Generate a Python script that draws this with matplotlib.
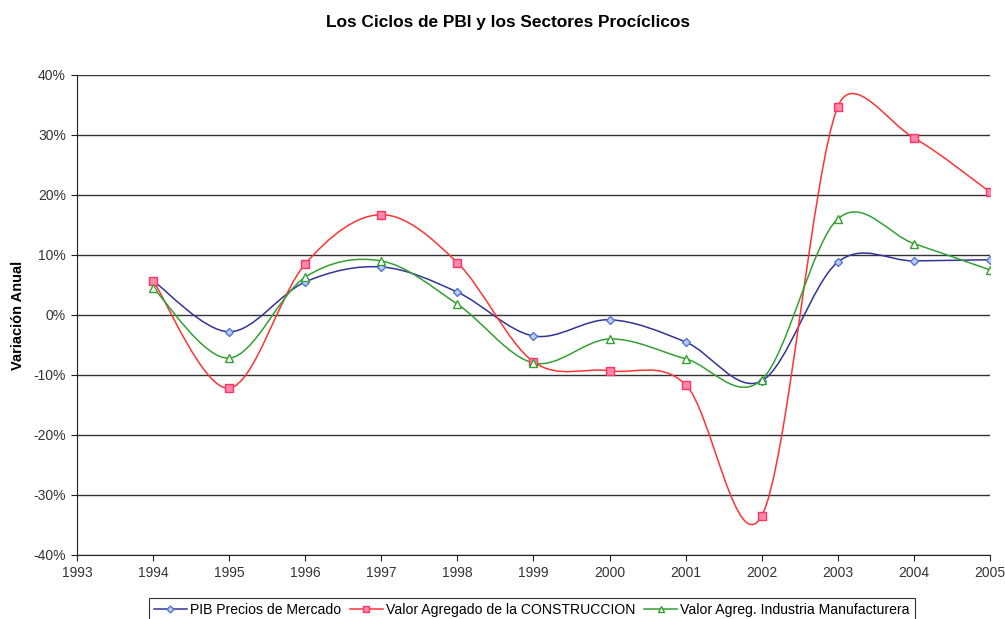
import numpy as np
import matplotlib
matplotlib.use("Agg")
from matplotlib import pyplot as plt
from matplotlib.path import Path
from matplotlib.patches import PathPatch
from matplotlib.ticker import FuncFormatter, MultipleLocator

plt.rcParams['font.family'] = ['Liberation Sans', 'DejaVu Sans']

years = [1994, 1995, 1996, 1997, 1998, 1999, 2000, 2001, 2002, 2003, 2004, 2005]
pib = [5.7, -2.8, 5.5, 8.0, 3.8, -3.5, -0.8, -4.5, -11.0, 8.8, 9.0, 9.2]
construccion = [5.7, -12.2, 8.5, 16.7, 8.7, -7.8, -9.3, -11.6, -33.5, 34.7, 29.5, 20.5]
industria = [4.5, -7.2, 6.3, 9.0, 1.8, -8.0, -4.0, -7.3, -10.8, 16.0, 11.9, 7.5]

labels = ["PIB Precios de Mercado",
          "Valor Agregado de la CONSTRUCCION",
          "Valor Agreg. Industria Manufacturera"]

SX, SY = 76.1, 6.0   # approx pixels per year / per percent, for the smoothing


# Excel-style smoothed line: cubic bezier through the points,
# control arms limited to half the segment length
def smooth_path(x, y):
    pts = np.column_stack([np.asarray(x) * SX, np.asarray(y) * SY]).astype(float)
    n = len(pts)
    out = [pts[0]]
    codes = [Path.MOVETO]
    for i in range(n - 1):
        p0 = pts[i - 1] if i > 0 else pts[i]
        p1 = pts[i]
        p2 = pts[i + 1]
        p3 = pts[i + 2] if i + 2 < n else pts[i + 1]
        seg = np.hypot(*(p2 - p1))
        a1 = (p2 - p0) / 6.0
        a2 = (p3 - p1) / 6.0
        for a in (a1, a2):
            la = np.hypot(*a)
            if la > seg / 2:
                a *= (seg / 2) / la
        out += [p1 + a1, p2 - a2, p2]
        codes += [Path.CURVE4] * 3
    verts = np.array(out) / [SX, SY]
    return Path(verts, codes)


fig = plt.figure(figsize=(10.05, 6.19), dpi=100)
ax = fig.add_axes([0.0766, 0.1034, 0.9084, 0.7756])

series = [
    (pib, '#333399', 'D', '#b8ccff', '#5577cc', 4.5),
    (construccion, '#ff3333', 's', '#ff88aa', '#ff3366', 5.5),
    (industria, '#33a033', '^', 'white', '#33a033', 6),
]
handles = []
for (vals, col, mk, fc, ec, ms), lab in zip(series, labels):
    ax.add_patch(PathPatch(smooth_path(years, vals), facecolor='none',
                           edgecolor=col, lw=1.1, zorder=3))
    ax.plot(years, vals, linestyle='none', marker=mk, markersize=ms,
            markerfacecolor=fc, markeredgecolor=ec, markeredgewidth=1.0, zorder=4)
    h, = ax.plot([], [], color=col, lw=1.1, marker=mk, markersize=ms - 1,
                 markerfacecolor=fc, markeredgecolor=ec)
    handles.append(h)

ax.set_xlim(1993, 2005)
ax.set_ylim(-40, 40)
ax.xaxis.set_major_locator(MultipleLocator(1))
ax.yaxis.set_major_locator(MultipleLocator(10))
ax.yaxis.set_major_formatter(FuncFormatter(lambda v, p: "%d%%" % v))
ax.grid(axis='y', color='#333333', lw=1.0)
ax.set_axisbelow(True)
for s in ['top', 'right']:
    ax.spines[s].set_visible(False)
for s in ['left', 'bottom']:
    ax.spines[s].set_color('#222222')
ax.tick_params(direction='out', length=4, color='#222222', labelsize=10,
               labelcolor='#333333', pad=4)

ax.set_ylabel("Variación Anual", fontsize=10.5, fontweight='bold', labelpad=6)
fig.text(0.505, 0.963, "Los Ciclos de PBI y los Sectores Procíclicos",
         ha='center', va='center', fontsize=12.4, fontweight='bold')

leg = fig.legend(handles, labels, loc='center', bbox_to_anchor=(0.529, 0.015),
                 ncol=3, fontsize=10.1, frameon=True, fancybox=False,
                 edgecolor='black', handlelength=2.4, handletextpad=0.2,
                 columnspacing=0.6, borderpad=0.35)
leg.get_frame().set_linewidth(0.8)

fig.savefig("out.png", dpi=100)
